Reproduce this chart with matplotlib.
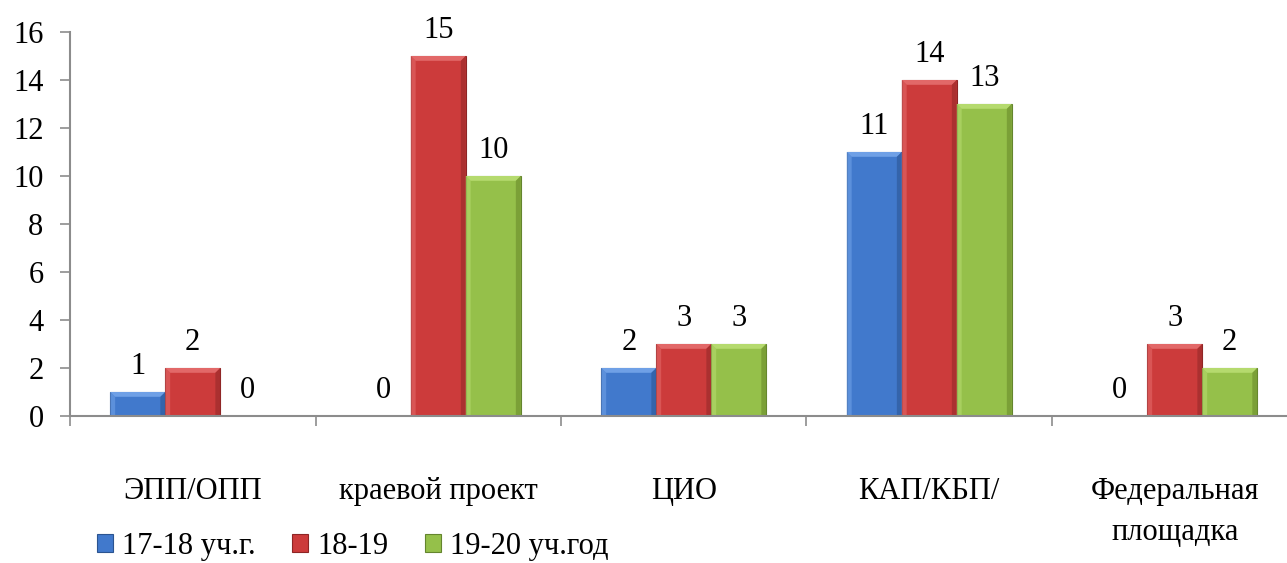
import numpy as np
import matplotlib.pyplot as plt
from matplotlib.patches import Polygon

categories = ["ЭПП/ОПП", "краевой проект", "ЦИО", "КАП/КБП/", "Федеральная\nплощадка"]
series_names = ["17-18 уч.г.", "18-19", "19-20 уч.год"]
v1718 = [1, 0, 2, 11, 0]
v1819 = [2, 15, 3, 14, 3]
v1920 = [0, 10, 3, 13, 2]

colors = ["#4179CC", "#CC3B3B", "#95C04A"]
lights = ["#6FA0E6", "#E26868", "#B5DA6E"]
darks = ["#2F5C9E", "#9E2C2C", "#71932F"]
edges = ["#2B5490", "#8E2525", "#64852E"]

plt.rcParams["font.family"] = ["Liberation Serif", "DejaVu Serif"]
fs = 22

fig = plt.figure(figsize=(12.87, 5.63), dpi=100)
ax = fig.add_axes([70 / 1287, 147 / 563, 1227.5 / 1287, 384 / 563])

x = np.arange(len(categories))
w = 0.224
bx, by = 0.02, 0.2  # bevel size in data units
for i, vals in enumerate([v1718, v1819, v1920]):
    pos = x + (i - 1) * w
    bars = ax.bar(pos, vals, w, color=colors[i], edgecolor=edges[i],
                  linewidth=0.8, label=series_names[i], zorder=3)
    for b in bars:
        h = b.get_height()
        if h <= 0:
            continue
        x0, x1 = b.get_x(), b.get_x() + b.get_width()
        # top bevel, lighter
        ax.add_patch(Polygon([(x0, h), (x1, h), (x1 - bx, h - by), (x0 + bx, h - by)],
                             closed=True, color=lights[i], lw=0, zorder=4))
        # left side, slightly lighter
        ax.add_patch(Polygon([(x0, 0), (x0, h), (x0 + bx, h - by), (x0 + bx, 0)],
                             closed=True, color=lights[i], alpha=0.6, lw=0, zorder=4))
        # right side, darker
        ax.add_patch(Polygon([(x1, 0), (x1, h), (x1 - bx, h - by), (x1 - bx, 0)],
                             closed=True, color=darks[i], alpha=0.7, lw=0, zorder=4))
    for p, v in zip(pos, vals):
        ax.text(p, v + 0.45, str(v), ha="center", va="bottom", fontsize=fs)

ax.set_xlim(-0.5, len(categories) - 0.5)
ax.set_ylim(0, 16)
ax.set_yticks(range(0, 17, 2))
ax.tick_params(axis="y", labelsize=fs, length=7, width=1.2, color="#8C8C8C", pad=12)

ax.set_xticks(np.arange(len(categories) + 1) - 0.5)
ax.set_xticklabels([])
ax.set_xticks(x, minor=True)
ax.set_xticklabels(categories, minor=True, fontsize=fs, linespacing=1.55)
ax.tick_params(axis="x", which="major", length=7, width=1.2, color="#8C8C8C")
ax.tick_params(axis="x", which="minor", length=0, pad=44)

for s in ["top", "right"]:
    ax.spines[s].set_visible(False)
for s in ["left", "bottom"]:
    ax.spines[s].set_color("#8C8C8C")
    ax.spines[s].set_linewidth(1.5)
    ax.spines[s].set_zorder(5)

fig.legend(loc="lower left", bbox_to_anchor=(0.054, -0.045), ncol=3, frameon=False,
           fontsize=fs, handlelength=0.52, handleheight=0.52, handletextpad=0.3,
           columnspacing=1.2)

fig.savefig("out.png", dpi=100)
